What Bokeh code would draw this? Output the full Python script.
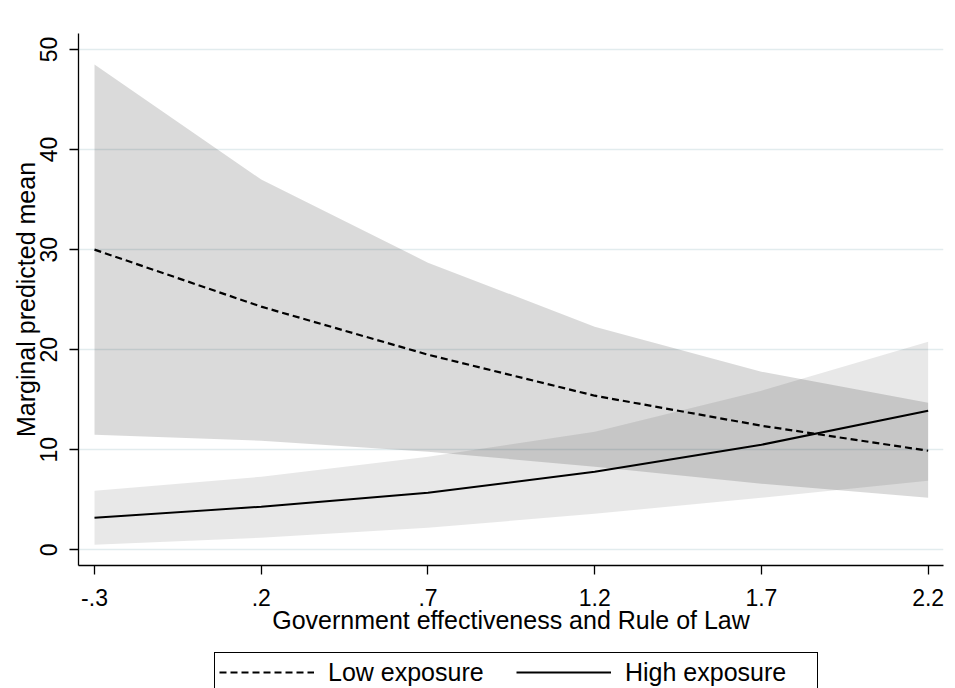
from bokeh.plotting import figure
from bokeh.layouts import column
from bokeh.models import Range1d, Legend, LegendItem, FixedTicker
from bokeh.embed import file_html
from bokeh.resources import INLINE

# ---- data ----
gov_eff = [-0.3, 0.2, 0.7, 1.2, 1.7, 2.2]
low_mean = [30.0, 24.3, 19.5, 15.4, 12.4, 9.9]
low_upper = [48.5, 37.0, 28.7, 22.3, 17.8, 14.7]
low_lower = [11.5, 10.9, 9.8, 8.3, 6.6, 5.2]
high_mean = [3.2, 4.3, 5.7, 7.8, 10.5, 13.9]
high_upper = [5.9, 7.3, 9.3, 11.8, 15.9, 20.8]
high_lower = [0.5, 1.2, 2.2, 3.6, 5.2, 6.9]
x_ticks = [-0.3, 0.2, 0.7, 1.2, 1.7, 2.2]
x_tick_labels = ["-.3", ".2", ".7", "1.2", "1.7", "2.2"]
y_ticks = [0, 10, 20, 30, 40, 50]
series_labels = ["Low exposure", "High exposure"]

FONT = "Liberation Sans"
W = 945
BORDER_L, BORDER_R = 78, 2

p = figure(
    width=W, height=650,
    x_range=Range1d(-0.348, 2.246), y_range=Range1d(-1.57, 51.6),
    output_backend="svg", toolbar_location=None,
    min_border_left=BORDER_L, min_border_top=33, min_border_right=BORDER_R, min_border_bottom=85,
)
p.outline_line_color = None
p.background_fill_color = "white"
p.border_fill_color = "white"

# confidence bands
p.varea(x=gov_eff, y1=low_lower, y2=low_upper, fill_color="black", fill_alpha=0.145)
p.varea(x=gov_eff, y1=high_lower, y2=high_upper, fill_color="black", fill_alpha=0.09)

# lines
p.line(gov_eff, low_mean, line_color="black", line_width=2.2, line_dash="7 4")
p.line(gov_eff, high_mean, line_color="black", line_width=2.0)

# grid
p.xgrid.visible = False
p.ygrid.ticker = FixedTicker(ticks=y_ticks)
p.ygrid.grid_line_color = "#e2ecee"
p.ygrid.grid_line_width = 1.3

# axes
for ax in (p.xaxis[0], p.yaxis[0]):
    ax.axis_line_color = "black"
    ax.axis_line_width = 1.3
    ax.major_tick_line_color = "black"
    ax.major_tick_line_width = 1.3
    ax.major_tick_out = 9
    ax.major_tick_in = 0
    ax.minor_tick_line_color = None
    ax.major_label_text_font = FONT
    ax.major_label_text_font_size = "23px"
    ax.major_label_text_color = "black"
    ax.axis_label_text_font = FONT
    ax.axis_label_text_font_size = "25px"
    ax.axis_label_text_font_style = "normal"
    ax.axis_label_text_color = "black"

p.xaxis.ticker = FixedTicker(ticks=x_ticks)
p.xaxis.major_label_overrides = dict(zip(x_ticks, x_tick_labels))
p.xaxis.axis_label = "Government effectiveness and Rule of Law"
p.xaxis.major_label_standoff = 14
p.xaxis.axis_label_standoff = -3

p.yaxis.ticker = FixedTicker(ticks=y_ticks)
p.yaxis.major_label_orientation = "vertical"
p.yaxis.axis_label = "Marginal predicted mean"
p.yaxis.major_label_standoff = 12
p.yaxis.axis_label_standoff = -2

# ---- legend strip below the chart (its lower border is cut off, as in the reference) ----
leg = figure(
    width=W, height=38, output_backend="svg", toolbar_location=None,
    x_axis_type=None, y_axis_type=None,
    x_range=Range1d(0, 1), y_range=Range1d(0, 1),
    min_border_left=BORDER_L, min_border_right=BORDER_R, min_border_top=0, min_border_bottom=0,
)
leg.outline_line_color = None
leg.border_fill_color = "white"
nan = float("nan")
key_low = leg.line([nan], [nan], line_color="black", line_width=2.2, line_dash="7 4")
key_high = leg.line([nan], [nan], line_color="black", line_width=2.0)

legend = Legend(
    items=[LegendItem(label=series_labels[0], renderers=[key_low]),
           LegendItem(label=series_labels[1], renderers=[key_high])],
    orientation="horizontal",
    location=(136, -4),
    margin=0,
    label_text_font=FONT,
    label_text_font_size="25px",
    label_text_color="black",
    label_width=188,
    glyph_width=95,
    glyph_height=30,
    label_standoff=14,
    spacing=0,
    padding=4,
    border_line_color="black",
    border_line_alpha=1.0,
    border_line_width=1.3,
    background_fill_color="white",
    background_fill_alpha=1.0,
)
leg.add_layout(legend, "center")

layout = column(p, leg, spacing=0)
open("out.html", "w").write(file_html(layout, INLINE))
